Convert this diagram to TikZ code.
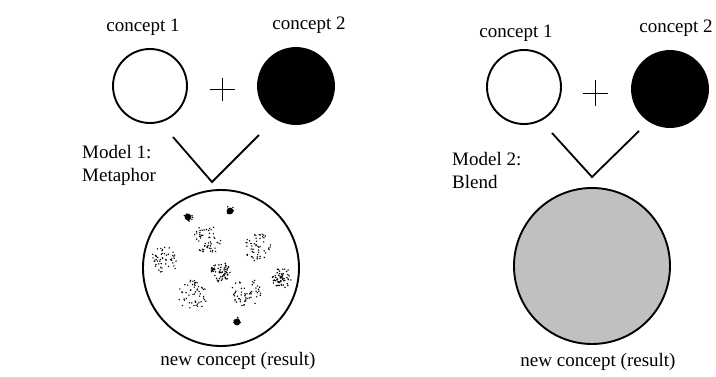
\documentclass[tikz,border=0pt]{standalone}
\usepackage{fontspec}
\setmainfont{Liberation Serif}
\definecolor{blendgray}{RGB}{192,192,192}
\tikzset{
  concept/.style={circle, draw=black, line width=1.9pt, minimum size=#1, inner sep=0pt},
  result/.style={circle, draw=black, line width=1.9pt, minimum size=156pt, inner sep=0pt},
  vline/.style={line width=1.8pt},
  plusline/.style={line width=1pt},
  lbl/.style={font=\fontsize{19}{23}\selectfont, inner sep=0pt},
}
% scattered stipple dots inside a disc: x, y, radius, number of dots, dot radius
\newcommand\stippleblob[5]{%
  \foreach \k in {1,...,#4}{%
    \pgfmathsetmacro\sang{360*rnd}%
    \pgfmathsetmacro\srad{#3*sqrt(rnd)}%
    \fill ({#1+\srad*cos(\sang)},{#2+\srad*sin(\sang)}) circle (#5);
  }}
% small solid spot with a ragged rim
\newcommand\inkspot[2]{%
  \fill (#1,#2) circle (3.4);
  \stippleblob{#1}{#2}{4.8}{10}{0.8}}
\begin{document}
\begin{tikzpicture}[x=1pt,y=-1pt]
\useasboundingbox (0,0) rectangle (716,376);
\pgfmathsetseed{11}

% ---------- Model 1: Metaphor ----------
\node[lbl] (t1L) at (143,27) {concept 1};
\node[lbl] (t2L) at (309,25) {concept 2};
\node[concept=74pt] (c1L) at (150,86) {};
\node[concept=76pt, fill=black] (c2L) at (296,86) {};
\coordinate (pL) at (222,89);
\draw[plusline] ([xshift=-12.5pt]pL) -- ([xshift=12.5pt]pL);
\draw[plusline] ([yshift=-11.5pt]pL) -- ([yshift=11.5pt]pL);
\coordinate (vaL) at (173,137);
\coordinate (vbL) at (212,182);
\coordinate (vcL) at (259,135);
\draw[vline] (vaL) -- (vbL) -- (vcL);
\node[lbl, anchor=north west, align=left] (mL) at (82,145) {Model 1:\\Metaphor};
\node[result] (rL) at (221,268) {};
\node[lbl] (nL) at (238,361) {new concept (result)};
% stippled contents of the result
\stippleblob{207}{240}{15}{55}{0.8}
\stippleblob{257}{247}{14}{50}{0.8}
\stippleblob{165}{260}{14}{50}{0.8}
\stippleblob{220}{272}{10}{60}{0.85}
\stippleblob{282}{278}{10}{60}{0.85}
\stippleblob{193}{295}{15}{55}{0.8}
\stippleblob{246}{292}{15}{55}{0.8}
\inkspot{188}{217}
\inkspot{230}{211}
\inkspot{237}{322}

% ---------- Model 2: Blend ----------
\node[lbl] (t1R) at (516,33) {concept 1};
\node[lbl] (t2R) at (676,28) {concept 2};
\node[concept=74pt] (c1R) at (524,87) {};
\node[concept=76pt, fill=black] (c2R) at (670,89) {};
\coordinate (pR) at (595,93);
\draw[plusline] ([xshift=-12.5pt]pR) -- ([xshift=12.5pt]pR);
\draw[plusline] ([yshift=-13pt]pR) -- ([yshift=13pt]pR);
\coordinate (vaR) at (552,133);
\coordinate (vbR) at (592,177);
\coordinate (vcR) at (639,131);
\draw[vline] (vaR) -- (vbR) -- (vcR);
\node[lbl, anchor=north west, align=left] (mR) at (452,152) {Model 2:\\Blend};
\node[result, fill=blendgray] (rR) at (592,266) {};
\node[lbl] (nR) at (598,362) {new concept (result)};
\end{tikzpicture}
\end{document}
